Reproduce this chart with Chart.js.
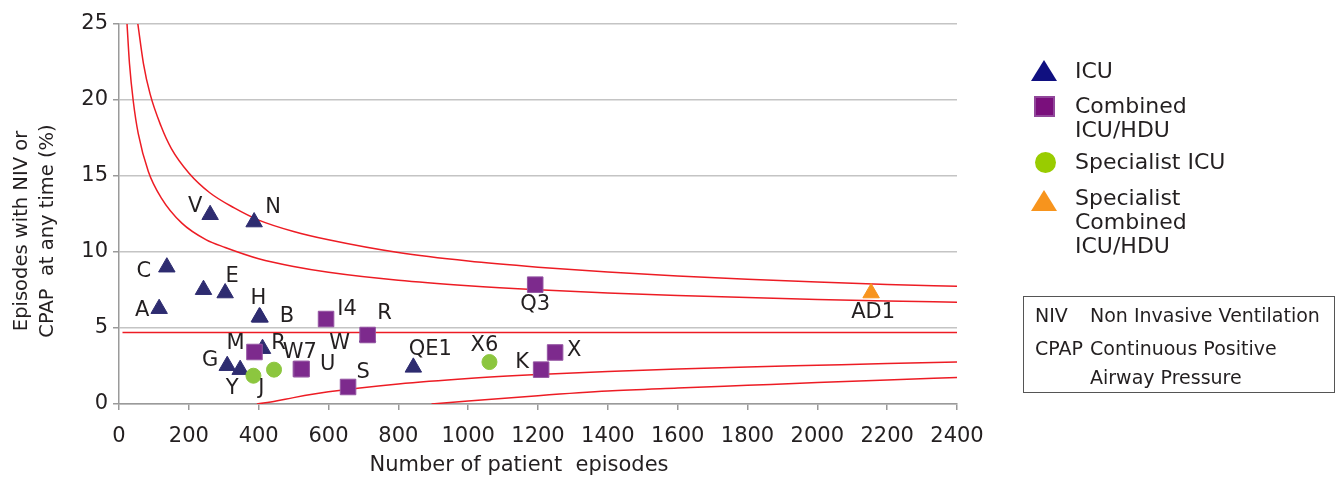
<!DOCTYPE html>
<html>
<head>
<meta charset="utf-8">
<title>NIV / CPAP funnel plot</title>
<script src="https://cdn.jsdelivr.net/npm/chart.js@4/dist/chart.umd.min.js"></script>
<style>
body { margin: 0; background: #fff; font-family: "DejaVu Sans", sans-serif; color: #231f20; }
#wrap { position: relative; width: 1335px; height: 479px; overflow: hidden; }
#chart { position: absolute; left: 0; top: 0; }
.lg-text { position: absolute; left: 1075px; font-size: 22px; line-height: 24px; white-space: nowrap; }
.mk { position: absolute; }
.tri { width: 0; height: 0; border-left: 13.5px solid transparent; border-right: 13.5px solid transparent; border-bottom: 21px solid; }
#abbr { position: absolute; left: 1023px; top: 296px; width: 312px; height: 97px; border: 1.5px solid #555; box-sizing: border-box; }
.ab { position: absolute; font-size: 19px; line-height: 24px; white-space: nowrap; }
</style>
</head>
<body>
<div id="wrap">
  <canvas id="chart" width="1335" height="479"></canvas>
  <div id="legend"></div>
  <div id="abbr"></div>
  <div class="ab" style="left:1035px; top:303px;">NIV</div>
  <div class="ab" style="left:1090px; top:303px;">Non Invasive Ventilation</div>
  <div class="ab" style="left:1035px; top:336px;">CPAP</div>
  <div class="ab" style="left:1090px; top:336px;">Continuous Positive</div>
  <div class="ab" style="left:1090px; top:365px;">Airway Pressure</div>
</div>
<script>
// units: episodes (x) and % with NIV or CPAP (y)
var icuNames = ['V', 'N', 'C', 'A', '', 'E', 'H', 'B', 'R', 'G', 'Y', 'W', 'QE1'];
var icuEpisodes = [261, 387, 137, 115, 242, 304, 402, 404, 411, 310, 347, 712, 843];
var icuPct = [12.45, 11.97, 9.0, 6.27, 7.52, 7.3, 5.72, 5.7, 3.64, 2.52, 2.26, 4.4, 2.41];

var combNames = ['M', 'I4', 'R', 'W7', 'U', 'S', 'K', 'X', 'Q3'];
var combEpisodes = [388, 593, 712, 521, 523, 656, 1209, 1249, 1192];
var combPct = [3.42, 5.59, 4.54, 2.3, 2.3, 1.12, 2.26, 3.39, 7.85];

var specNames = ['J', '', 'X6'];
var specEpisodes = [385, 444, 1061];
var specPct = [1.86, 2.26, 2.76];

var specCombNames = ['AD1'];
var specCombEpisodes = [2154];
var specCombPct = [7.3];

// funnel limits
var meanEpisodes = [10, 2400];
var meanPct = [4.71, 4.71];
var upperOuterEpisodes = [54, 70, 89, 120, 150, 200, 260, 330, 400, 500, 600, 800, 1000, 1200, 1400, 1600, 1800, 2000, 2200, 2400];
var upperOuterPct = [25.0, 22.4, 20.4, 18.3, 16.8, 15.2, 13.9, 12.9, 12.1, 11.35, 10.8, 9.96, 9.4, 9.0, 8.68, 8.42, 8.21, 8.03, 7.87, 7.74];
var upperInnerEpisodes = [23, 30, 41, 55, 84, 120, 180, 250, 304, 400, 500, 600, 800, 1000, 1200, 1400, 1600, 1800, 2000, 2200, 2400];
var upperInnerPct = [25.0, 22.4, 19.9, 17.8, 15.3, 13.6, 11.9, 10.8, 10.3, 9.56, 9.05, 8.67, 8.14, 7.78, 7.51, 7.3, 7.14, 7.0, 6.88, 6.78, 6.69];
var lowerInnerEpisodes = [395, 450, 500, 600, 800, 1000, 1200, 1400, 1600, 1800, 2000, 2200, 2400];
var lowerInnerPct = [0, 0.2, 0.42, 0.8, 1.32, 1.68, 1.94, 2.14, 2.3, 2.44, 2.55, 2.66, 2.76];
var lowerOuterEpisodes = [895, 1000, 1200, 1400, 1600, 1800, 2000, 2200, 2400];
var lowerOuterPct = [0, 0.2, 0.55, 0.85, 1.05, 1.23, 1.41, 1.58, 1.74];

var seriesNames = [['ICU'], ['Combined', 'ICU/HDU'], ['Specialist ICU'], ['Specialist', 'Combined', 'ICU/HDU']];

// where each point label sits, relative to its marker
var labelOffsets = {
    icu: {V: [-15, -8], N: [19, -15], C: [-23, 4], A: [-17, 2], E: [7, -16], H: [-1, -19], B: [27, -1],
          R: [16, -5], G: [-17, -5], Y: [-8, 19], W: [-28, 6], QE1: [17, -18]},
    comb: {M: [-19, -8], I4: [21, -9], R: [17, -21], W7: [-1, -16], U: [26, -4], S: [15, -14],
           K: [-19, -7], X: [19, -2], Q3: [0, 20]},
    spec: {J: [8, 13], X6: [-5, -17]},
    specComb: {AD1: [2, 20]}
};

function toPoints(xs, ys) {
    var pts = [];
    for (var i = 0; i < xs.length; i++) {
        pts.push({x: xs[i], y: ys[i]});
    }
    return pts;
}

function limitLine(xs, ys) {
    return {
        type: 'line',
        data: toPoints(xs, ys),
        borderColor: '#ed1c24',
        borderWidth: 1.5,
        pointRadius: 0,
        fill: false,
        cubicInterpolationMode: 'monotone',
        order: 5
    };
}

var pointLabels = {
    id: 'pointLabels',
    afterDatasetsDraw: function (chart) {
        var ctx = chart.ctx;
        ctx.save();
        ctx.font = '21px "DejaVu Sans"';
        ctx.fillStyle = '#231f20';
        ctx.textAlign = 'center';
        ctx.textBaseline = 'middle';
        chart.data.datasets.forEach(function (ds, di) {
            if (!ds.names) return;
            var meta = chart.getDatasetMeta(di);
            ds.names.forEach(function (name, i) {
                var off = labelOffsets[ds.key][name];
                if (!name || !off) return;
                var el = meta.data[i];
                ctx.fillText(name, el.x + off[0], el.y + off[1]);
            });
        });
        ctx.restore();
    }
};

var axisTitles = {
    id: 'axisTitles',
    afterDraw: function (chart) {
        var ctx = chart.ctx;
        var area = chart.chartArea;
        ctx.save();
        ctx.fillStyle = '#231f20';
        ctx.textAlign = 'center';
        ctx.textBaseline = 'middle';
        ctx.font = '21px "DejaVu Sans"';
        ctx.fillText('Number of patient  episodes', area.left + 400, area.bottom + 62);
        ctx.font = '19.5px "DejaVu Sans"';
        ctx.translate(0, area.top + 207);
        ctx.rotate(-Math.PI / 2);
        ctx.fillText('Episodes with NIV or', 0, 22);
        ctx.fillText('CPAP  at any time (%)', 0, 48);
        ctx.restore();
    }
};

Chart.defaults.font.family = '"DejaVu Sans", sans-serif';
Chart.defaults.font.size = 21;
Chart.defaults.color = '#231f20';

new Chart(document.getElementById('chart'), {
    type: 'scatter',
    data: {
        datasets: [
            {
                label: 'ICU', key: 'icu', names: icuNames,
                data: toPoints(icuEpisodes, icuPct),
                pointStyle: 'triangle', pointRadius: 9.5,
                backgroundColor: '#2e2c70', borderColor: '#2e2c70', borderWidth: 1,
                order: 2
            },
            {
                label: 'Combined ICU/HDU', key: 'comb', names: combNames,
                data: toPoints(combEpisodes, combPct),
                pointStyle: 'rect', pointRadius: 11,
                backgroundColor: '#7d2a8d', borderColor: '#9556a3', borderWidth: 1,
                order: 1
            },
            {
                label: 'Specialist ICU', key: 'spec', names: specNames,
                data: toPoints(specEpisodes, specPct),
                pointStyle: 'circle', pointRadius: 7.5,
                backgroundColor: '#8cc63f', borderColor: '#8cc63f', borderWidth: 1,
                order: 1
            },
            {
                label: 'Specialist Combined ICU/HDU', key: 'specComb', names: specCombNames,
                data: toPoints(specCombEpisodes, specCombPct),
                pointStyle: 'triangle', pointRadius: 9.5,
                backgroundColor: '#f7941d', borderColor: '#f7941d', borderWidth: 1,
                order: 1
            },
            limitLine(meanEpisodes, meanPct),
            limitLine(upperOuterEpisodes, upperOuterPct),
            limitLine(upperInnerEpisodes, upperInnerPct),
            limitLine(lowerInnerEpisodes, lowerInnerPct),
            limitLine(lowerOuterEpisodes, lowerOuterPct)
        ]
    },
    options: {
        responsive: false,
        animation: false,
        layout: {padding: {top: 24, right: 378, bottom: 0, left: 0}},
        plugins: {legend: {display: false}, tooltip: {enabled: false}},
        scales: {
            x: {
                type: 'linear', min: 0, max: 2400,
                ticks: {stepSize: 200, padding: 14, callback: function (v) { return String(v); }},
                grid: {drawOnChartArea: false, drawTicks: true, tickLength: 6, color: '#9a9a9a', lineWidth: 1.5},
                border: {color: '#9a9a9a', width: 1.5},
                afterFit: function (s) { s.height = 75; }
            },
            y: {
                min: 0, max: 25,
                ticks: {stepSize: 5, padding: 5},
                grid: {color: '#c4c4c4', lineWidth: 1.5, tickLength: 6, tickColor: '#9a9a9a'},
                border: {color: '#9a9a9a', width: 1.5},
                afterFit: function (s) { s.width = 119; }
            }
        }
    },
    plugins: [pointLabels, axisTitles]
});

// html legend, so the names can wrap like the original
var legendTops = [59, 94, 150, 186];
var legendMarks = [
    '<div class="mk tri" style="left:1031px; top:60px; color:#101080;"></div>',
    '<div class="mk" style="left:1034px; top:96px; width:21px; height:21px; box-sizing:border-box; background:#7a0f7c; border:2px solid #91479a;"></div>',
    '<div class="mk" style="left:1035px; top:152px; width:21px; height:21px; border-radius:50%; background:#99cc00;"></div>',
    '<div class="mk tri" style="left:1031px; top:190px; color:#f7941d;"></div>'
];
var html = '';
seriesNames.forEach(function (lines, i) {
    html += legendMarks[i];
    html += '<div class="lg-text" style="top:' + legendTops[i] + 'px;">' + lines.join('<br>') + '</div>';
});
document.getElementById('legend').innerHTML = html;
</script>
</body>
</html>
